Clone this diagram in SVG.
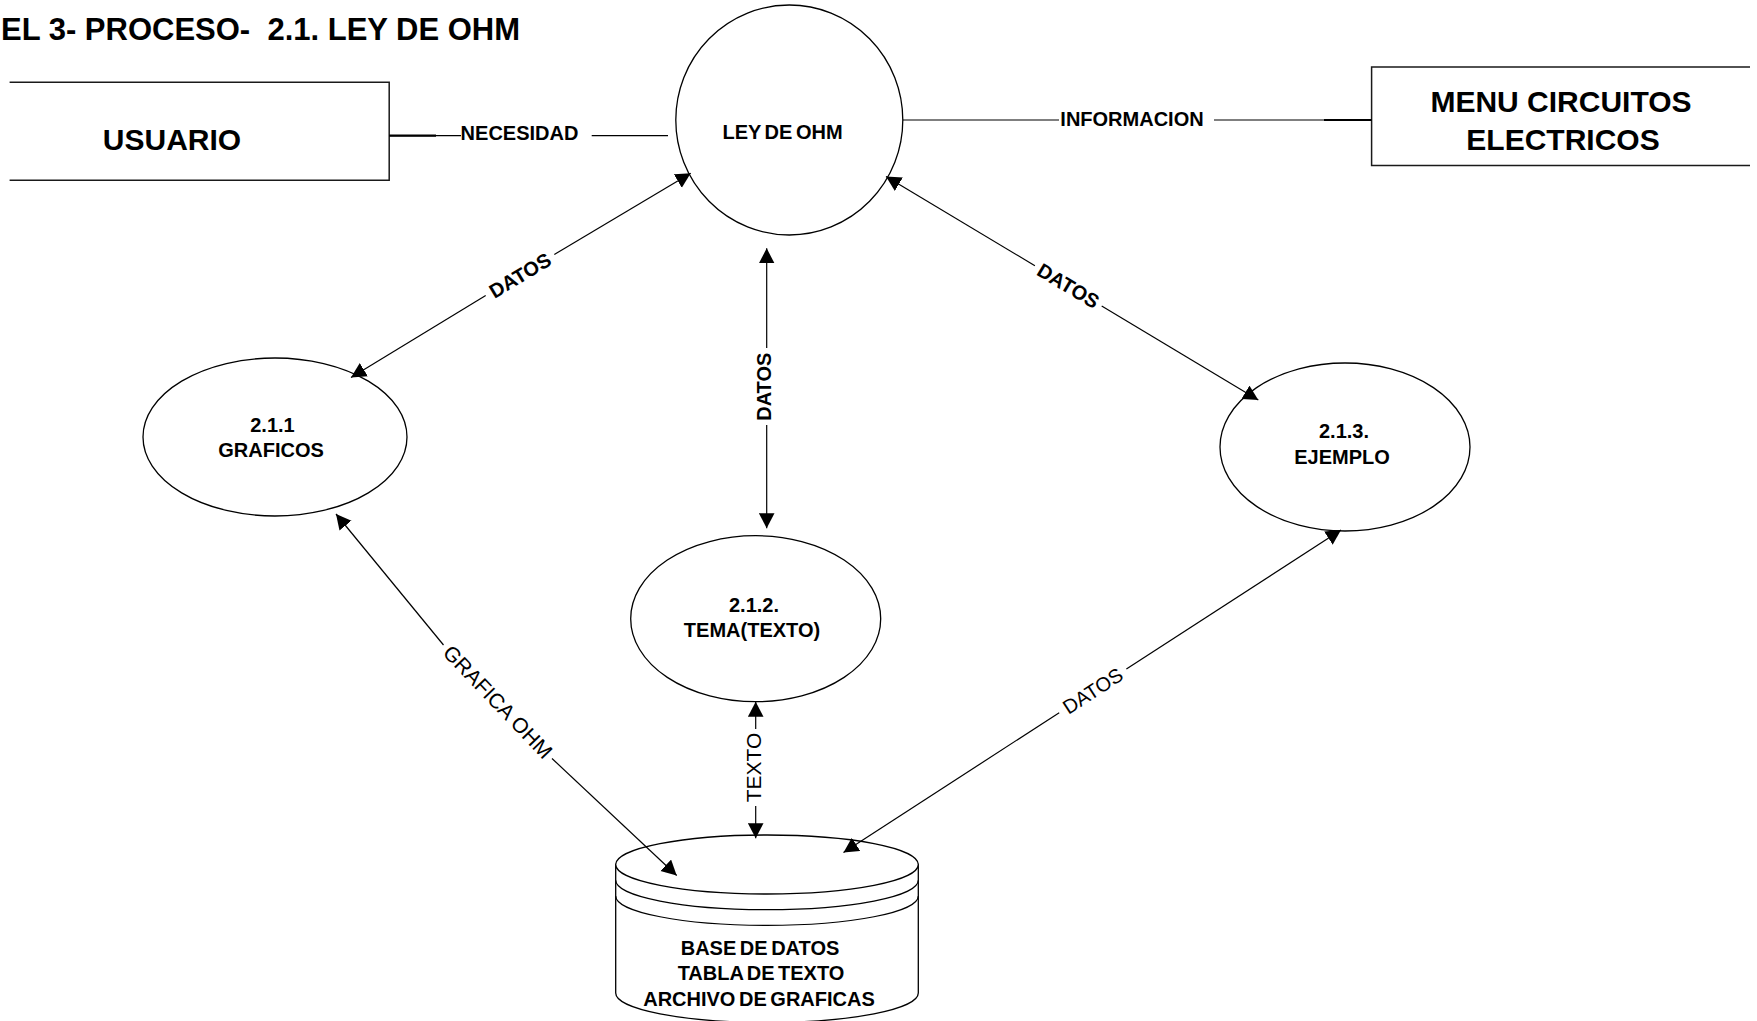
<svg xmlns="http://www.w3.org/2000/svg" width="1757" height="1021" viewBox="0 0 1757 1021">
  <style>
    .bg { fill: #ffffff; }
    .box { fill: none; stroke: #1a1a1a; stroke-width: 1.5; }
    .proc { fill: #ffffff; stroke: #000000; stroke-width: 1.3; }
    .ln { fill: none; stroke: #000000; stroke-width: 1.2; }
    .thick { fill: none; stroke: #000000; stroke-width: 2.2; }
    .t { font-family: "Liberation Sans", Arial, sans-serif; fill: #000000; text-anchor: middle; }
    .head { font-family: "Liberation Sans", Arial, sans-serif; fill: #000000; font-weight: bold; font-size: 31px; text-anchor: start; white-space: pre; }
    .b { font-weight: bold; }
    .big { font-size: 30px; }
    .lbl { font-size: 20px; }
    .tight { word-spacing: -2px; }
  </style>
  <defs>
    <marker id="arrow" markerUnits="userSpaceOnUse" markerWidth="16" markerHeight="16" refX="15" refY="7.8" orient="auto" viewBox="0 0 16 16">
      <path d="M0,0 L15,7.8 L0,15.6 Z" fill="#000000"/>
    </marker>
  </defs>

  <rect class="bg" x="0" y="0" width="1757" height="1021"/>

  <!-- page heading -->
  <g id="title">
    <text class="head" x="1" y="40" xml:space="preserve">EL 3- PROCESO-  2.1. LEY DE OHM</text>
  </g>

  <!-- external entities (open-sided boxes) -->
  <g id="node-usuario">
    <polyline class="box" points="9.6,82.3 389.2,82.3 389.2,180.3 9.6,180.3"/>
    <text class="t b big" x="172" y="150">USUARIO</text>
  </g>

  <g id="node-menu-circuitos">
    <polyline class="box" points="1750,67 1371.6,67 1371.6,165.5 1750,165.5"/>
    <text class="t b big" x="1561" y="111.7">MENU CIRCUITOS</text>
    <text class="t b big" x="1563" y="150">ELECTRICOS</text>
  </g>

  <!-- processes -->
  <g id="node-ley-ohm">
    <ellipse class="proc" cx="789.3" cy="120" rx="113.5" ry="115"/>
    <text class="t b lbl tight" x="782.5" y="139">LEY DE OHM</text>
  </g>

  <g id="node-graficos">
    <ellipse class="proc" cx="275" cy="437" rx="132" ry="79"/>
    <text class="t b lbl" x="272.5" y="431.7">2.1.1</text>
    <text class="t b lbl" x="271" y="456.5">GRAFICOS</text>
  </g>

  <g id="node-tema">
    <ellipse class="proc" cx="755.7" cy="618.7" rx="125" ry="83"/>
    <text class="t b lbl" x="754" y="611.7">2.1.2.</text>
    <text class="t b lbl" x="752" y="637.3">TEMA(TEXTO)</text>
  </g>

  <g id="node-ejemplo">
    <ellipse class="proc" cx="1345" cy="447" rx="125" ry="84"/>
    <text class="t b lbl" x="1344" y="438.3">2.1.3.</text>
    <text class="t b lbl" x="1342" y="464">EJEMPLO</text>
  </g>

  <!-- data store -->
  <g id="node-base-datos">
    <path class="proc" d="M615.7,864.5 V993 A151.3,29.5 0 0 0 918.3,993 V864.5 Z"/>
    <ellipse class="proc" cx="767" cy="864.5" rx="151.3" ry="29.5"/>
    <path class="ln" d="M615.7,880.2 A151.3,29.5 0 0 0 918.3,880.2"/>
    <path class="ln" d="M615.7,895.9 A151.3,29.5 0 0 0 918.3,895.9"/>
    <text class="t b lbl tight" x="760" y="955">BASE DE DATOS</text>
    <text class="t b lbl tight" x="761" y="980">TABLA DE TEXTO</text>
    <text class="t b lbl tight" x="759" y="1005.5">ARCHIVO DE GRAFICAS</text>
  </g>

  <!-- data flows -->
  <g id="connectors">
    <!-- USUARIO -> LEY DE OHM -->
    <path class="ln" d="M389.2,135.7 H461"/>
    <path class="thick" d="M389.2,135.7 H436"/>
    <path class="ln" d="M591.7,135.7 H668"/>
    <text class="t b lbl" x="519.5" y="140">NECESIDAD</text>

    <!-- LEY DE OHM -> MENU CIRCUITOS ELECTRICOS -->
    <path class="ln" d="M903,120 H1059"/>
    <path class="ln" d="M1214,120 H1371.6"/>
    <path class="thick" d="M1324,120 H1371.6"/>
    <text class="t b lbl" x="1132" y="126">INFORMACION</text>

    <!-- LEY DE OHM <-> GRAFICOS -->
    <path class="ln" d="M554.3,254.4 L690.7,173.3" marker-end="url(#arrow)"/>
    <path class="ln" d="M485.7,295.6 L351,377.5" marker-end="url(#arrow)"/>
    <text class="t b lbl" transform="translate(520,275.5) rotate(-31)" dy="0.35em">DATOS</text>

    <!-- LEY DE OHM <-> TEMA(TEXTO) -->
    <path class="ln" d="M766.7,348 V248.3" marker-end="url(#arrow)"/>
    <path class="ln" d="M766.7,425 V528.3" marker-end="url(#arrow)"/>
    <text class="t b lbl" transform="translate(764.2,386.7) rotate(-90)" dy="0.35em">DATOS</text>

    <!-- LEY DE OHM <-> EJEMPLO -->
    <path class="ln" d="M1034.9,265.7 L886,176.5" marker-end="url(#arrow)"/>
    <path class="ln" d="M1101.7,305.9 L1258.3,400" marker-end="url(#arrow)"/>
    <text class="t b lbl" transform="translate(1068.3,285.8) rotate(31)" dy="0.35em">DATOS</text>

    <!-- GRAFICOS <-> BASE DE DATOS -->
    <path class="ln" d="M443.5,645 L336,514" marker-end="url(#arrow)"/>
    <path class="ln" d="M552,758.5 L676.7,875.5" marker-end="url(#arrow)"/>
    <text class="t" font-size="21" transform="translate(497.8,701.8) rotate(46.3)" dy="0.35em">GRAFICA OHM</text>

    <!-- TEMA(TEXTO) <-> BASE DE DATOS -->
    <path class="ln" d="M755.7,729 V701.7" marker-end="url(#arrow)"/>
    <path class="ln" d="M755.7,806 V838.3" marker-end="url(#arrow)"/>
    <text class="t" font-size="21" transform="translate(753.7,767.5) rotate(-90)" dy="0.35em">TEXTO</text>

    <!-- EJEMPLO <-> BASE DE DATOS -->
    <path class="ln" d="M1126.4,669.1 L1341,530" marker-end="url(#arrow)"/>
    <path class="ln" d="M1059.2,712.7 L843.5,852.5" marker-end="url(#arrow)"/>
    <text class="t lbl" transform="translate(1092.8,690.9) rotate(-33)" dy="0.35em">DATOS</text>
  </g>
</svg>
